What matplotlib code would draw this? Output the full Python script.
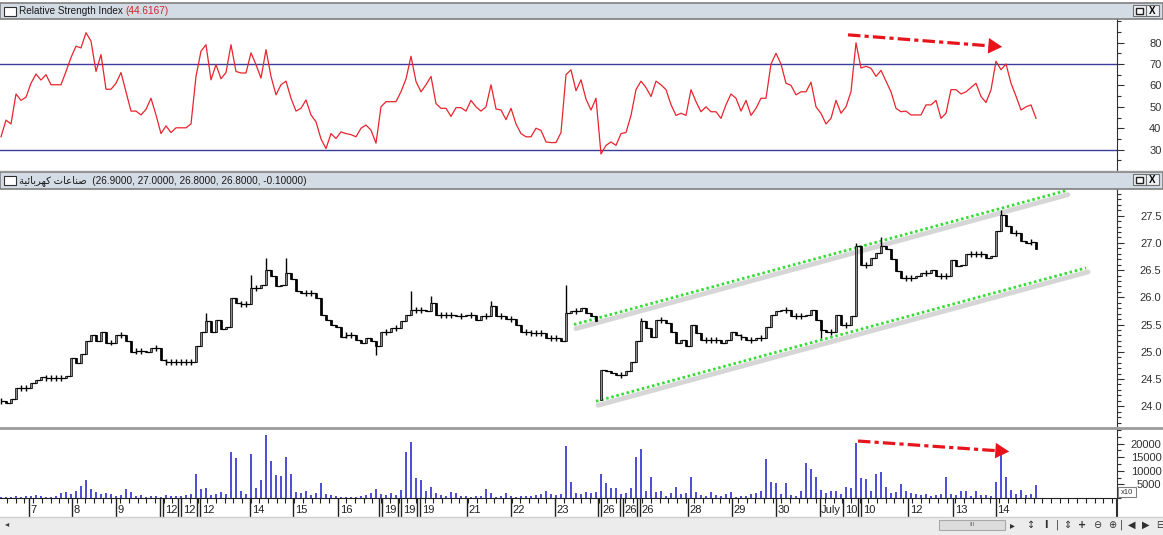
import numpy as np
import matplotlib
matplotlib.use("Agg")
import matplotlib.pyplot as plt
from matplotlib.patches import Rectangle, FancyArrowPatch
from matplotlib.ticker import MultipleLocator
from matplotlib.transforms import offset_copy

plt.rcParams['font.family'] = ['Liberation Sans', 'DejaVu Sans']

W, H = 1163, 535
AXIS_X = 1117  # position of the price scale, px

# ---- data, one bar about every 5 px ----
rsi = [36, 43.8, 42, 56, 53, 54.5, 61, 65.3, 62.5, 65, 60.3, 60.3, 60.3, 66.5, 73, 78.3,
       77.5, 84.6, 80.7, 66.5, 74.4, 58.2, 58.2, 61, 66, 57, 48, 48, 46.2, 48.8, 54, 46.2,
       37.5, 41.1, 38, 40.2, 40.2, 40.2, 42, 64.2, 76, 79, 62.6, 69.7, 63.1, 66, 79, 66.5,
       65.8, 65.8, 75.2, 69.7, 63.4, 76.7, 64.2, 55.6, 60.3, 62, 54, 48, 49.3, 53.2, 46.2, 43,
       35, 30.5, 37.5, 35.2, 38.3, 37.5, 37, 36, 40, 41.5, 39.1, 33, 50, 52.4, 52.4, 52.4,
       57.1, 63, 73.6, 61.8, 57, 60.3, 64.2, 51.5, 49.3, 49.3, 45.5, 49.6, 49.6, 48, 53, 50,
       48, 50, 60.3, 49, 48.5, 44, 49.3, 42, 37.5, 36, 36, 40, 39, 33.6, 33.3, 33.3,
       38, 65, 67.3, 57.5, 62.6, 53.6, 48.5, 54, 28, 32, 33.6, 32, 37.5, 38, 46, 58,
       62, 59, 54.8, 62, 60.3, 58, 51, 46, 47, 46, 58, 52.4, 47.7, 50, 47.7, 47.7,
       44.6, 51, 56, 54, 48, 53, 46, 49.3, 54, 54, 70, 75, 70, 61, 60, 55.6,
       57, 57, 61.5, 50, 46.9, 42, 44.6, 53, 47, 50, 57.1, 79.9, 68.1, 68.9, 68, 64.2,
       67, 62, 57, 49.3, 47.7, 48, 46.2, 46.2, 46.2, 50.9, 50.9, 53, 44.6, 47, 58, 58,
       56, 57, 59, 61, 54.8, 52, 57.9, 71.3, 67.3, 70, 61, 55, 48.5, 50, 50.9, 44.6]

close = [24.09, 24.06, 24.14, 24.33, 24.33, 24.33, 24.43, 24.49, 24.53, 24.52, 24.52, 24.52,
         24.52, 24.55, 24.89, 24.80, 24.95, 25.19, 25.31, 25.19, 25.37, 25.17, 25.17, 25.31,
         25.31, 25.19, 25.00, 25.02, 25.02, 24.99, 25.07, 25.07, 24.84, 24.82, 24.82, 24.82,
         24.82, 24.82, 24.82, 25.10, 25.37, 25.56, 25.37, 25.59, 25.41, 25.45, 25.99, 25.90,
         25.88, 25.88, 26.17, 26.17, 26.23, 26.50, 26.39, 26.20, 26.23, 26.45, 26.33, 26.12,
         26.08, 26.08, 26.08, 25.99, 25.68, 25.59, 25.50, 25.45, 25.28, 25.30, 25.31, 25.22,
         25.16, 25.25, 25.19, 25.10, 25.37, 25.37, 25.44, 25.44, 25.56, 25.68, 25.77, 25.77,
         25.77, 25.74, 25.90, 25.67, 25.67, 25.67, 25.67, 25.65, 25.65, 25.67, 25.67, 25.59,
         25.65, 25.65, 25.84, 25.65, 25.65, 25.60, 25.60, 25.50, 25.37, 25.37, 25.35, 25.35,
         25.35, 25.25, 25.25, 25.25, 25.19, 25.71, 25.74, 25.74, 25.80, 25.71, 25.65, 25.56,
         24.67, 24.64, 24.61, 24.58, 24.58, 24.64, 24.82, 25.19, 25.56, 25.44, 25.28, 25.59,
         25.59, 25.53, 25.37, 25.16, 25.22, 25.10, 25.50, 25.34, 25.22, 25.22, 25.22, 25.22,
         25.16, 25.22, 25.37, 25.30, 25.28, 25.22, 25.22, 25.26, 25.26, 25.45, 25.68, 25.74,
         25.77, 25.77, 25.65, 25.65, 25.65, 25.68, 25.77, 25.59, 25.40, 25.37, 25.37, 25.68,
         25.50, 25.50, 25.65, 26.94, 26.60, 26.60, 26.72, 26.82, 26.94, 26.88, 26.70, 26.48,
         26.36, 26.36, 26.36, 26.40, 26.45, 26.45, 26.51, 26.39, 26.39, 26.39, 26.69, 26.57,
         26.60, 26.79, 26.79, 26.79, 26.79, 26.72, 26.75, 27.21, 27.52, 27.31, 27.18, 27.18,
         27.03, 27.00, 27.02, 26.88]

volume = [300, 500, 400, 600, 500, 800, 600, 1200, 700, 500, 400, 900, 1800, 2300, 1600, 2500,
          4400, 6800, 3200, 2200, 1600, 2000, 1400, 800, 1200, 3300, 2200, 700, 1100, 500, 600, 800,
          500, 1200, 900, 700, 800, 1000, 1600, 8800, 3400, 3600, 1200, 1500, 2200, 1400, 16900, 14800,
          2400, 1500, 16200, 3500, 6600, 23300, 13600, 8450, 8100, 15200, 9000, 2200, 1800, 2500,
          1200, 2000, 5400, 1500, 1200, 800, 500, 400, 300, 500, 700, 1200, 2000, 3300, 1500, 1200,
          2000, 1000, 2900, 16900, 20700, 7200, 6600, 2600, 3900, 1800, 1200, 900, 2200, 1800, 600, 800,
          500, 900, 600, 3400, 1900, 500, 700, 1900, 600, 400, 800, 600, 900, 1200, 1400, 2600,
          1500, 1200, 1600, 19100, 5800, 2000, 1600, 2200, 1800, 2200, 8800, 5400, 3500, 3500, 1500, 2000,
          3500, 15000, 17900, 2400, 7600, 2200, 2400, 800, 1800, 4200, 1500, 2000, 7600, 2200, 1200, 800,
          2200, 1000, 800, 1400, 2200, 500, 900, 600, 1300, 1800, 2600, 14200, 6000, 5400, 1500, 5600,
          1200, 800, 2600, 13000, 10800, 7800, 2900, 1800, 2600, 2600, 1500, 3900, 3500, 20100, 7200, 6900,
          2500, 8800, 9700, 4000, 1800, 2200, 5100, 2600, 1800, 1500, 1200, 1400, 900, 1200, 1500, 7800,
          1500, 1200, 2500, 2600, 900, 2600, 1200, 1000, 800, 6000, 16400, 7800, 3000, 1500, 2900, 1000,
          1500, 4800]

# wick extremes beyond open/close
spike_bars = [41, 50, 53, 57, 82, 86, 98, 113, 128, 171, 176, 200]
spike_high = [25.71, 26.41, 26.72, 26.72, 26.12, 26.02, 25.93, 26.23, 25.62, 27.0, 27.1, 27.61]
dip_bars = [75, 164]
dip_low = [24.94, 25.26]
gap_bar, gap_open = 120, 24.12

# trend channel and divergence arrows (bar index, value)
upper_channel = [(114.6, 25.50), (213.0, 27.96)]
lower_channel = [(119.0, 24.09), (217.0, 26.54)]
rsi_arrow = [(169.4, 83.6), (200.8, 77.9)]
vol_arrow = [(171.4, 20950), (202.2, 17000)]

date_labels = ['7', '8', '9', '12', '12', '12', '14', '15', '16', '19', '19', '19', '21', '22',
               '23', '26', '26', '26', '28', '29', '30', 'July', '10', '10', '12', '13', '14']
date_pos = [5.5, 14.2, 23.0, 32.4, 36.0, 39.8, 49.8, 58.4, 67.4, 76.2, 80.0, 83.8, 93.2, 102.0,
            110.8, 120.0, 124.4, 127.8, 137.4, 146.1, 154.9, 163.7, 168.4, 172.0, 181.4, 190.4, 198.9]
date_double = [False, False, False, True, True, True, False, False, False, True, True, True, False,
               False, False, True, True, True, False, False, False, False, False, True, False, False, False]

# shaped Arabic glyphs in visual order: صناعات كهربائية
stock_name = '\uFE94\uFEF4\uFE8B\uFE8E\uFE91\uFEAE\uFEEC\uFEDB \uFE95\uFE8E\uFECB\uFE8E\uFEE8\uFEBB'

idx = np.arange(len(close))
close = np.array(close)
XLIM = (-0.2, 223.2)

fig = plt.figure(figsize=(W / 100, H / 100), dpi=100)
fig.patch.set_facecolor('white')


def panel(top, bottom):
    ax = fig.add_axes([0, 1 - bottom / H, AXIS_X / W, (bottom - top) / H])
    ax.set_xlim(*XLIM)
    for s in ('left', 'top', 'bottom'):
        ax.spines[s].set_visible(False)
    ax.spines['right'].set_color('#303030')
    ax.yaxis.tick_right()
    ax.set_xticks([])
    ax.tick_params(axis='y', which='major', direction='out', length=5, width=0.8,
                   pad=27, labelsize=8, colors='#303030')
    ax.tick_params(axis='y', which='minor', direction='out', length=3, width=0.8, colors='#303030')
    return ax


# RSI
ax_r = panel(19, 170)
ax_r.set_ylim(20.5, 91)
ax_r.axhline(70, color='#3c3c9e', lw=1)
ax_r.axhline(30, color='#3c3c9e', lw=1)
ax_r.plot(idx, rsi, color='#e8242c', lw=0.9)
rt = [30, 40, 50, 60, 70, 80]
ax_r.set_yticks(rt, [str(v) for v in rt], ha='right')
ax_r.yaxis.set_minor_locator(MultipleLocator(5))

# price
ax_p = panel(189, 426)
ax_p.set_ylim(23.636, 27.99)
opens = np.r_[close[0], close[:-1]]
opens[gap_bar] = gap_open
lo = np.minimum(opens, close)
hi = np.maximum(opens, close)
for b, v in zip(spike_bars, spike_high):
    hi[b] = max(hi[b], v)
for b, v in zip(dip_bars, dip_low):
    lo[b] = min(lo[b], v)
ax_p.vlines(idx, lo, hi, color='black', lw=1, zorder=3)
keep = idx[:-1] != gap_bar - 1
ax_p.hlines(close[:-1][keep], idx[:-1][keep], idx[1:][keep], color='black', lw=0.9, zorder=3)
for i in idx:
    o, c = opens[i], close[i]
    if abs(c - o) < 0.02:
        # unchanged bar: just a short high-low tick
        ax_p.vlines(i, c - 0.055, c + 0.055, color='black', lw=1, zorder=4)
        continue
    ax_p.add_patch(Rectangle((i - 0.25, min(o, c)), 0.5, abs(c - o),
                             fc='#8c8c8c' if c >= o else 'black', ec='black', lw=0.5, zorder=4))
shadow = offset_copy(ax_p.transData, fig=fig, x=2, y=-4, units='dots')
for ch in (upper_channel, lower_channel):
    xs, ys = zip(*ch)
    ax_p.plot(xs, ys, color='#d6d6d6', lw=3.5, transform=shadow, solid_capstyle='round', zorder=1)
    ax_p.plot(xs, ys, color='#33dd33', lw=2.0, dashes=(0.9, 1.0), dash_capstyle='butt', zorder=2)
pt = [24.0, 24.5, 25.0, 25.5, 26.0, 26.5, 27.0, 27.5]
ax_p.set_yticks(pt, [f'{v:.1f}' for v in pt], ha='right')
ax_p.yaxis.set_minor_locator(MultipleLocator(0.1))

# volume
ax_v = panel(429, 498)
ax_v.set_ylim(0, 25370)
ax_v.spines['bottom'].set_visible(True)
ax_v.spines['bottom'].set_color('#202020')
ax_v.bar(idx, volume, width=0.4, color='#4f4fd8', lw=0)
vt = [5000, 10000, 15000, 20000]
ax_v.set_yticks(vt, [str(v) for v in vt], ha='right')
ax_v.yaxis.set_minor_locator(MultipleLocator(2500))
ax_v.set_xticks(np.arange(1.2, 223, 1.74), minor=True)
ax_v.tick_params(axis='x', which='minor', bottom=True, direction='out', length=3.5,
                 width=0.8, colors='#202020')

red = '#e8141c'
for ax, (p0, p1) in ((ax_r, rsi_arrow), (ax_v, vol_arrow)):
    frac = 0.93
    mid = (p0[0] + (p1[0] - p0[0]) * frac, p0[1] + (p1[1] - p0[1]) * frac)
    ax.plot([p0[0], mid[0]], [p0[1], mid[1]], color=red, lw=2.3,
            dashes=(3.9, 1.3, 1.3, 1.3), zorder=6)
    ax.add_patch(FancyArrowPatch(mid, p1, arrowstyle='-|>,head_length=0.5,head_width=0.28',
                                 mutation_scale=20, color=red, lw=0, zorder=6))

# date band under the volume
ax_d = fig.add_axes([0, 1 - 517 / H, AXIS_X / W, 19 / H])
ax_d.set_xlim(*XLIM)
ax_d.set_ylim(0, 1)
ax_d.axis('off')
for lab, x, dbl in zip(date_labels, date_pos, date_double):
    ax_d.vlines(x, 0, 1, color='#202020', lw=1)
    if dbl:
        ax_d.vlines(x - 0.7, 0, 1, color='#202020', lw=1)
    ax_d.text(x + 0.35, 0.37, lab, fontsize=8, va='center', ha='left', color='#202020')
ax_d.vlines(XLIM[1], 0, 1, color='#303030', lw=1.5, clip_on=False)

# window chrome
ov = fig.add_axes([0, 0, 1, 1], zorder=10)
ov.set_xlim(0, W)
ov.set_ylim(H, 0)
ov.axis('off')
ov.patch.set_alpha(0)
for top, ht in ((2.5, 16), (171.5, 17)):
    ov.add_patch(Rectangle((0, top), W, ht, fc='#d3dbe5', ec='#7f7f7f', lw=1.2))
    ov.add_patch(Rectangle((3.5, top + 4), 12, 9, fc='white', ec='#303030', lw=0.8))
    ov.add_patch(Rectangle((1133, top + 2.5), 12.5, 11, fc='#eef1f4', ec='#707070', lw=0.8))
    ov.add_patch(Rectangle((1136, top + 5), 6.5, 6, fc='white', ec='#202020', lw=1))
    ov.add_patch(Rectangle((1146, top + 2.5), 12.5, 11, fc='#eef1f4', ec='#707070', lw=0.8))
    ov.text(1152.2, top + 8.2, 'X', fontsize=7, ha='center', va='center', weight='bold')
ov.plot([0, W], [427.5, 427.5], color='#9a9a9a', lw=2)
ov.plot([0, W], [170.5, 170.5], color='#9a9a9a', lw=1)

t1 = ov.text(19, 10.8, 'Relative Strength Index', fontsize=7.2, va='center', color='#1a1a1a')
ov.text(19, 180.5, stock_name + '  (26.9000, 27.0000, 26.8000, 26.8000, -0.10000)',
        fontsize=7.2, va='center', color='#1a1a1a')
fig.canvas.draw()
bb = t1.get_window_extent()
x_end = ov.transData.inverted().transform((bb.x1, bb.y0))[0]
ov.text(x_end + 3, 10.8, '(44.6167)', fontsize=7.2, va='center', color='#d02828')

# x10 scale box of the volume panel
ov.add_patch(Rectangle((1118, 487), 18, 10, fc='white', ec='#808080', lw=0.8))
ov.text(1127, 492.3, 'x10', fontsize=5.5, ha='center', va='center', color='#303030')

# bottom toolbar
ov.add_patch(Rectangle((0, 517), W, 18, fc='#ececec', ec='none'))
ov.plot([0, W], [517, 517], color='#cfcfcf', lw=1)
ov.text(5, 525, '\u25C2', fontsize=6, va='center', color='#404040')
ov.add_patch(Rectangle((939, 520), 66, 10, fc='#dcdcdc', ec='#a8a8a8', lw=0.8))
ov.text(972, 525, 'III', fontsize=4.5, ha='center', va='center', color='#606060')
icons = [(1012, '\u25B8'), (1031, '\u2195'), (1046, 'I'), (1057, '|'), (1067, '\u21D5'),
         (1082, '+'), (1097, '\u2296'), (1112, '\u2295'), (1121, '|'), (1132, '\u25C0'),
         (1146, '\u25B6'), (1160, '\u229F')]
for x, g in icons:
    ov.text(x, 525, g, fontsize=7, ha='center', va='center', color='#303030',
            family=['DejaVu Sans'], weight='bold' if g in 'I+' else 'normal')

fig.savefig('out.png', dpi=100)
